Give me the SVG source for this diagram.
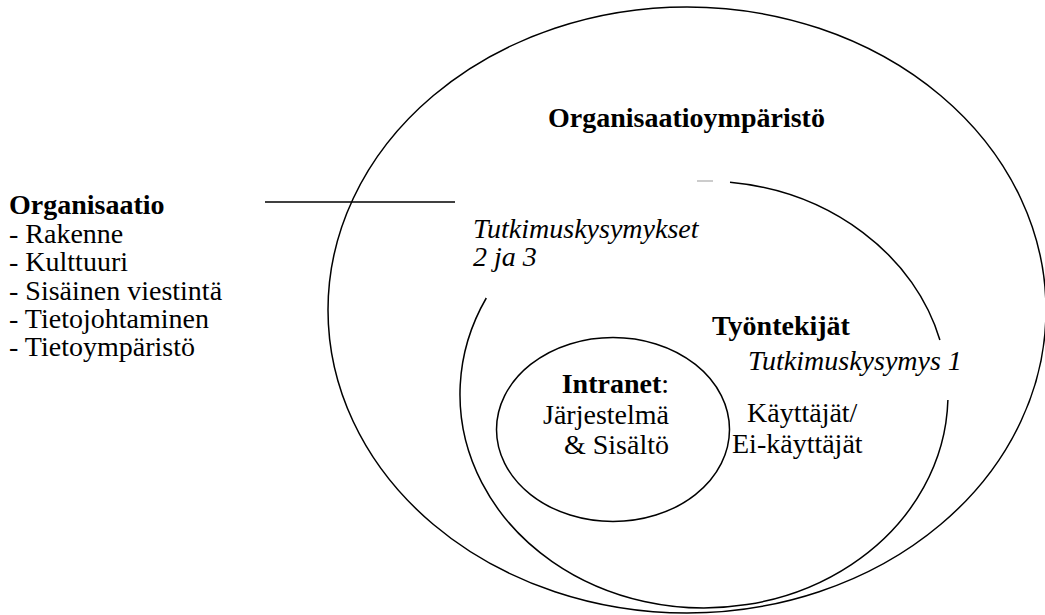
<svg xmlns="http://www.w3.org/2000/svg" width="1045" height="615" viewBox="0 0 1045 615">
<style>
.ln{fill:none;stroke:#000;stroke-width:1.5}
.t{font-family:"Liberation Serif","Times New Roman",serif;font-size:28px;fill:#000}
.b{font-weight:bold}
.i{font-style:italic}
</style>
<rect width="1045" height="615" fill="#fff"/>
<g id="ymparisto">
<ellipse class="ln" cx="687" cy="310" rx="359" ry="303"/>
<text class="t b" x="548" y="127">Organisaatioympäristö</text>
<text class="t i" x="473" y="238">Tutkimuskysymykset</text>
<text class="t i" x="473" y="266">2 ja 3</text>
</g>
<g id="tyontekijat">
<path class="ln" d="M730 182.2 A244 213.5 0 0 1 939.9 340"/>
<path class="ln" d="M947.9 400 A244 213.5 0 1 1 486.3 298"/>
<path d="M697 181 L713 181" fill="none" stroke="#999" stroke-width="1"/>
<text class="t b" x="712" y="335">Työntekijät</text>
<text class="t i" x="748" y="370">Tutkimuskysymys 1</text>
<text class="t" x="747" y="422">Käyttäjät/</text>
<text class="t" x="732" y="453">Ei-käyttäjät</text>
</g>
<g id="intranet">
<ellipse class="ln" cx="613" cy="429.5" rx="116.5" ry="92"/>
<text class="t" x="669" y="393" text-anchor="end"><tspan class="b">Intranet</tspan>:</text>
<text class="t" x="669" y="424" text-anchor="end">Järjestelmä</text>
<text class="t" x="669" y="454" text-anchor="end">&amp; Sisältö</text>
</g>
<g id="organisaatio">
<text class="t b" x="9" y="214">Organisaatio</text>
<text class="t" x="9" y="243">- Rakenne</text>
<text class="t" x="9" y="271">- Kulttuuri</text>
<text class="t" x="9" y="300">- Sisäinen viestintä</text>
<text class="t" x="9" y="328">- Tietojohtaminen</text>
<text class="t" x="9" y="356">- Tietoympäristö</text>
</g>
<g id="connectors">
<path class="ln" d="M265 202 L455 202"/>
</g>
</svg>
